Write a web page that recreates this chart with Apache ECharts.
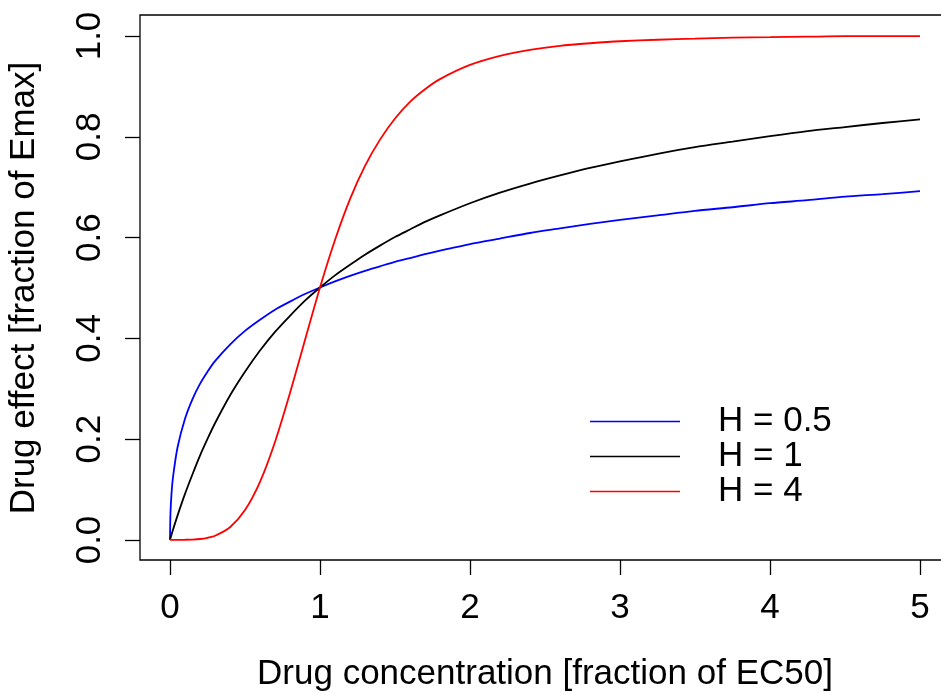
<!DOCTYPE html>
<html><head><meta charset="utf-8">
<script src="https://cdn.jsdelivr.net/npm/echarts@6/dist/echarts.min.js"></script>
<style>html,body{margin:0;padding:0;background:#fff}#c{width:941px;height:693px}</style>
</head><body><div id="c"></div>
<script>
const conc = [0, 0.003, 0.01, 0.02, 0.05, 0.1, 0.15, 0.2, 0.25, 0.3, 0.4, 0.5, 0.6, 0.7, 0.8, 0.9, 1.0, 1.1, 1.2, 1.3, 1.4, 1.5, 1.6, 1.7, 1.8, 2.0, 2.2, 2.4, 2.6, 2.8, 3.0, 3.25, 3.5, 3.75, 4.0, 4.25, 4.5, 4.75, 5.0];
const effH05 = [0, 0.052, 0.091, 0.124, 0.183, 0.240, 0.279, 0.309, 0.333, 0.354, 0.387, 0.414, 0.436, 0.456, 0.472, 0.487, 0.500, 0.512, 0.523, 0.533, 0.542, 0.551, 0.558, 0.566, 0.573, 0.586, 0.597, 0.608, 0.617, 0.626, 0.634, 0.643, 0.652, 0.659, 0.667, 0.673, 0.680, 0.685, 0.691];
const effH1 = [0, 0.003, 0.010, 0.020, 0.048, 0.091, 0.130, 0.167, 0.200, 0.231, 0.286, 0.333, 0.375, 0.412, 0.444, 0.474, 0.500, 0.524, 0.545, 0.565, 0.583, 0.600, 0.615, 0.630, 0.643, 0.667, 0.688, 0.706, 0.722, 0.737, 0.750, 0.765, 0.778, 0.789, 0.800, 0.810, 0.818, 0.826, 0.833];
const effH4 = [0, 0, 0, 0, 0, 0.0001, 0.0005, 0.0016, 0.004, 0.008, 0.025, 0.059, 0.115, 0.194, 0.291, 0.396, 0.500, 0.594, 0.675, 0.741, 0.793, 0.835, 0.868, 0.893, 0.913, 0.941, 0.959, 0.971, 0.979, 0.984, 0.988, 0.991, 0.993, 0.995, 0.996, 0.997, 0.998, 0.998, 0.998];
const seriesNames = ['H = 0.5', 'H = 1', 'H = 4'];
const xTickMin = 0, xTickMax = 5, xTickStep = 1;
const yTickMin = 0, yTickMax = 1, yTickStep = 0.2;
const xTitle = 'Drug concentration [fraction of EC50]';
const yTitle = 'Drug effect [fraction of Emax]';

const FONT = '"Liberation Sans", Arial, Helvetica, sans-serif';
const FS = 35;
const colors = ['#0000ff', '#000000', '#ff0000'];
const chart = echarts.init(document.getElementById('c'), null, {renderer: 'canvas'});
const mk = (ys) => conc.map((c, i) => [c, ys[i]]);
const datas = [effH05, effH1, effH4];
const clear = {color: 'rgba(0,0,0,0)'};
const quietAxis = (gi) => ({
  gridIndex: gi, type: 'value', min: 0, max: 1,
  axisLine: {show: true, lineStyle: clear}, axisTick: {show: false}, axisLabel: {show: false}, splitLine: {show: false}
});
const hiddenAxis = (gi) => ({gridIndex: gi, type: 'value', show: false, min: 0, max: 1});
const tickStrip = (gi, mn, mx, step) => ({
  gridIndex: gi, type: 'value', min: mn, max: mx, interval: step,
  axisLine: {show: false}, axisTick: {show: false}, axisLabel: {show: false},
  splitLine: {show: true, showMinLine: true, showMaxLine: true, lineStyle: {color: '#000', width: 1.3}}
});
const plain = {show: false, containLabel: false, outerBoundsMode: 'none'};
chart.setOption({
  animation: false,
  backgroundColor: '#fff',
  textStyle: {fontFamily: FONT, color: '#000'},
  grid: [
    {left: 140, top: 15, width: 810, height: 545, show: true, borderColor: '#000', borderWidth: 1.3,
     backgroundColor: 'transparent', containLabel: false, outerBoundsMode: 'none'},
    Object.assign({left: 170, top: 15, width: 750, height: 545}, plain),
    Object.assign({left: 140, top: 36, width: 780, height: 504}, plain),
    Object.assign({left: 170, top: 560, width: 750, height: 15}, plain),
    Object.assign({left: 125, top: 36, width: 15, height: 504}, plain)
  ],
  xAxis: [
    {gridIndex: 0, type: 'value', show: false, min: -0.2, max: 5.2},
    {
      gridIndex: 1, type: 'value', min: xTickMin, max: xTickMax, interval: xTickStep,
      name: xTitle, nameLocation: 'middle', nameGap: 97,
      nameTextStyle: {fontSize: FS, color: '#000', fontFamily: FONT},
      axisLine: {show: true, lineStyle: clear},
      splitLine: {show: false},
      axisTick: {show: false},
      axisLabel: {fontSize: FS, color: '#000', margin: 31, fontFamily: FONT, formatter: v => String(v)}
    },
    quietAxis(2),
    tickStrip(3, xTickMin, xTickMax, xTickStep),
    hiddenAxis(4)
  ],
  yAxis: [
    {gridIndex: 0, type: 'value', show: false, min: -0.04, max: 1.04},
    quietAxis(1),
    {
      gridIndex: 2, type: 'value', min: yTickMin, max: yTickMax, interval: yTickStep,
      name: yTitle, nameLocation: 'middle', nameGap: 98,
      nameTextStyle: {fontSize: FS, color: '#000', fontFamily: FONT},
      axisLine: {show: true, lineStyle: clear},
      splitLine: {show: false},
      axisTick: {show: false},
      axisLabel: {rotate: 90, fontSize: FS, color: '#000', margin: 32, fontFamily: FONT, formatter: v => v.toFixed(1)}
    },
    hiddenAxis(3),
    tickStrip(4, yTickMin, yTickMax, yTickStep)
  ],
  legend: {
    show: true, orient: 'vertical', left: 590, top: 404,
    data: seriesNames.map((n, i) => ({name: n, icon: 'rect', itemStyle: {color: colors[i]}})),
    itemWidth: 90, itemHeight: 1.5, itemGap: 0,
    textStyle: {fontSize: FS, color: '#000', fontFamily: FONT, lineHeight: 33.5, padding: [0, 0, 0, 33]},
    padding: 0
  },
  series: seriesNames.map((n, i) => ({
    name: n, type: 'line', xAxisIndex: 0, yAxisIndex: 0, data: mk(datas[i]), showSymbol: false, symbol: 'none',
    smooth: 0.25,
    lineStyle: {color: colors[i], width: 1.8}, itemStyle: {color: colors[i]}
  }))
});
</script></body></html>
